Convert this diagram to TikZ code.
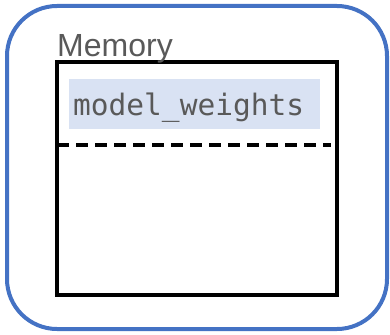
\documentclass[tikz,border=0pt]{standalone}
\usepackage{fontspec}
\setmainfont{Liberation Sans}
\newfontfamily\codefont{DejaVu Sans Mono}
\definecolor{frameblue}{HTML}{4472C4}
\definecolor{fieldfill}{HTML}{D9E2F3}
\definecolor{labelgray}{HTML}{595959}
\begin{document}
\begin{tikzpicture}[x=1pt,y=-1pt,
  outerframe/.style={draw=frameblue, line width=4pt, rounded corners=50pt,
    minimum width=380pt, minimum height=323pt, inner sep=0pt},
  memblock/.style={draw=black, line width=4.2pt,
    minimum width=280pt, minimum height=233pt, inner sep=0pt},
  fieldbox/.style={fill=fieldfill, minimum width=251pt, minimum height=50pt, inner sep=0pt},
  fieldtext/.style={text=labelgray, font=\codefont\fontsize{29.5}{34}\selectfont, inner sep=0pt},
  titletext/.style={text=labelgray, font=\fontsize{32}{37}\selectfont, inner sep=0pt},
  divider/.style={draw=black, line width=4.2pt, dash pattern=on 12pt off 7pt}]
\useasboundingbox (0,0) rectangle (390,334);
% outer rounded frame
\node[outerframe] (frame) at (197,167.5) {};
% memory block
\node[memblock] (block) at (197,178.5) {};
% highlighted field
\node[fieldbox] (field) at (194.5,104) {};
\node[fieldtext, anchor=base west] (weights) at (73,115) {model\_weights};
% title
\node[titletext, anchor=base west] (title) at (57,57) {Memory};
% dashed divider
\coordinate (divL) at (57,145);
\coordinate (divR) at (331,145);
\draw[divider] (divL) -- (divR);
\end{tikzpicture}
\end{document}
